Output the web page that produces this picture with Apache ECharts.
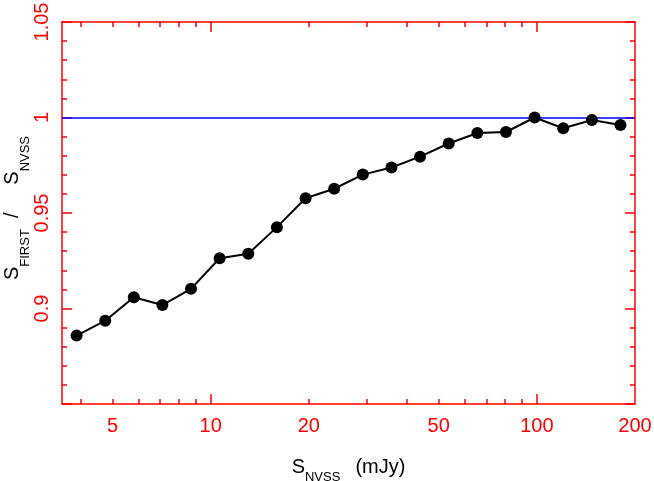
<!DOCTYPE html>
<html>
<head>
<meta charset="utf-8">
<script src="https://cdn.jsdelivr.net/npm/echarts@6/dist/echarts.min.js"></script>
<style>
  html, body { margin: 0; padding: 0; background: #fff; }
  #chart { width: 654px; height: 481px; }
</style>
</head>
<body>
<div id="chart"></div>
<script>
// S_NVSS bin centres (mJy) and flux ratio
const sNvss = [3.88, 4.75, 5.81, 7.11, 8.70, 10.65, 13.04, 15.96, 19.54, 23.91,
  29.27, 35.83, 43.85, 53.68, 65.71, 80.43, 98.45, 120.5, 147.5, 180.5]
const ratio = [0.8858, 0.8936, 0.9059, 0.9018, 0.9103, 0.9263, 0.9287, 0.9426, 0.9577, 0.9627,
  0.9701, 0.9738, 0.9795, 0.9864, 0.9919, 0.9924, 1.0000, 0.9944, 0.9987, 0.9961]

const xLabels = [5, 10, 20, 50, 100, 200]
const xMajorTicks = [10, 100]
const xMinorTicks = [4, 5, 6, 7, 8, 9, 20, 30, 40, 50, 60, 70, 80, 90]
const refLine = 1

const RED = '#ff0000'
const FONT = 'Liberation Sans'

const chart = echarts.init(document.getElementById('chart'))

const baseX = (opts) => Object.assign({
  type: 'log',
  min: 3.5,
  max: 200,
  splitLine: { show: false },
  axisLine: { show: true, lineStyle: { color: RED, width: 1.5 } },
  axisLabel: { show: false },
  axisTick: { show: true, inside: true, length: 10, lineStyle: { color: RED, width: 1.5 } }
}, opts)

const baseY = (opts) => Object.assign({
  type: 'value',
  min: 0.85,
  max: 1.05,
  interval: 0.05,
  splitLine: { show: false },
  axisLine: { show: true, lineStyle: { color: RED, width: 1.5 } },
  axisTick: { show: true, inside: true, length: 10, lineStyle: { color: RED, width: 1.5 } },
  minorTick: { show: true, splitNumber: 5, length: 5, lineStyle: { color: RED, width: 1.5 } },
  axisLabel: { show: false }
}, opts)

// subscripts sit lower than the main letters; line height sets how much lower
const nameRich = (lh) => ({
  s: { fontFamily: FONT, fontSize: 20, lineHeight: lh, color: '#000', verticalAlign: 'top' },
  sub: { fontFamily: FONT, fontSize: 13, lineHeight: 13, color: '#000', verticalAlign: 'bottom' },
  p: { fontFamily: FONT, fontSize: 20, lineHeight: lh, color: '#000', verticalAlign: 'top', padding: [0, 0, 0, 15] }
})

const option = {
  animation: false,
  backgroundColor: '#fff',
  grid: { left: 62, right: 19, top: 22, bottom: 77, containLabel: false, outerBoundsMode: 'none' },
  xAxis: [
    baseX({
      position: 'bottom',
      axisTick: { show: true, inside: true, length: 10, customValues: xMajorTicks, lineStyle: { color: RED, width: 1.5 } },
      axisLabel: { show: true, customValues: xLabels, color: RED, fontFamily: FONT, fontSize: 20, margin: 12 },
      name: '{s|S}{sub|NVSS}{p|(mJy)}',
      nameLocation: 'middle',
      nameGap: 53,
      nameMoveOverlap: false,
      nameTextStyle: { rich: nameRich(27) }
    }),
    baseX({
      position: 'bottom',
      axisLine: { show: false },
      axisTick: { show: true, inside: true, length: 5, customValues: xMinorTicks, lineStyle: { color: RED, width: 1.5 } }
    }),
    baseX({
      position: 'top',
      axisTick: { show: true, inside: true, length: 10, customValues: xMajorTicks, lineStyle: { color: RED, width: 1.5 } }
    }),
    baseX({
      position: 'top',
      axisLine: { show: false },
      axisTick: { show: true, inside: true, length: 5, customValues: xMinorTicks, lineStyle: { color: RED, width: 1.5 } }
    })
  ],
  yAxis: [
    baseY({
      position: 'left',
      axisLabel: {
        show: true,
        rotate: 90,
        color: RED,
        fontFamily: FONT,
        fontSize: 20,
        margin: 10,
        formatter: (v) => (Math.abs(v - 0.85) < 1e-6 ? '' : String(+v.toFixed(2)))
      },
      name: '{s|S}{sub|FIRST}{s|  /     S}{sub|NVSS}',
      nameLocation: 'middle',
      nameRotate: 90,
      nameGap: 30,
      nameMoveOverlap: false,
      nameTextStyle: { rich: nameRich(30), padding: [0, 0, 0, 10] }
    }),
    baseY({ position: 'right' })
  ],
  series: [
    {
      type: 'line',
      xAxisIndex: 0,
      yAxisIndex: 0,
      data: sNvss.map((x, i) => [x, ratio[i]]),
      symbol: 'circle',
      symbolSize: 12,
      itemStyle: { color: '#000' },
      lineStyle: { color: '#000', width: 2 },
      markLine: {
        z: 1,
        silent: true,
        symbol: 'none',
        label: { show: false },
        lineStyle: { color: '#0000ff', width: 1.5, type: 'solid' },
        data: [{ yAxis: refLine }]
      }
    }
  ]
}

chart.setOption(option)
</script>
</body>
</html>
